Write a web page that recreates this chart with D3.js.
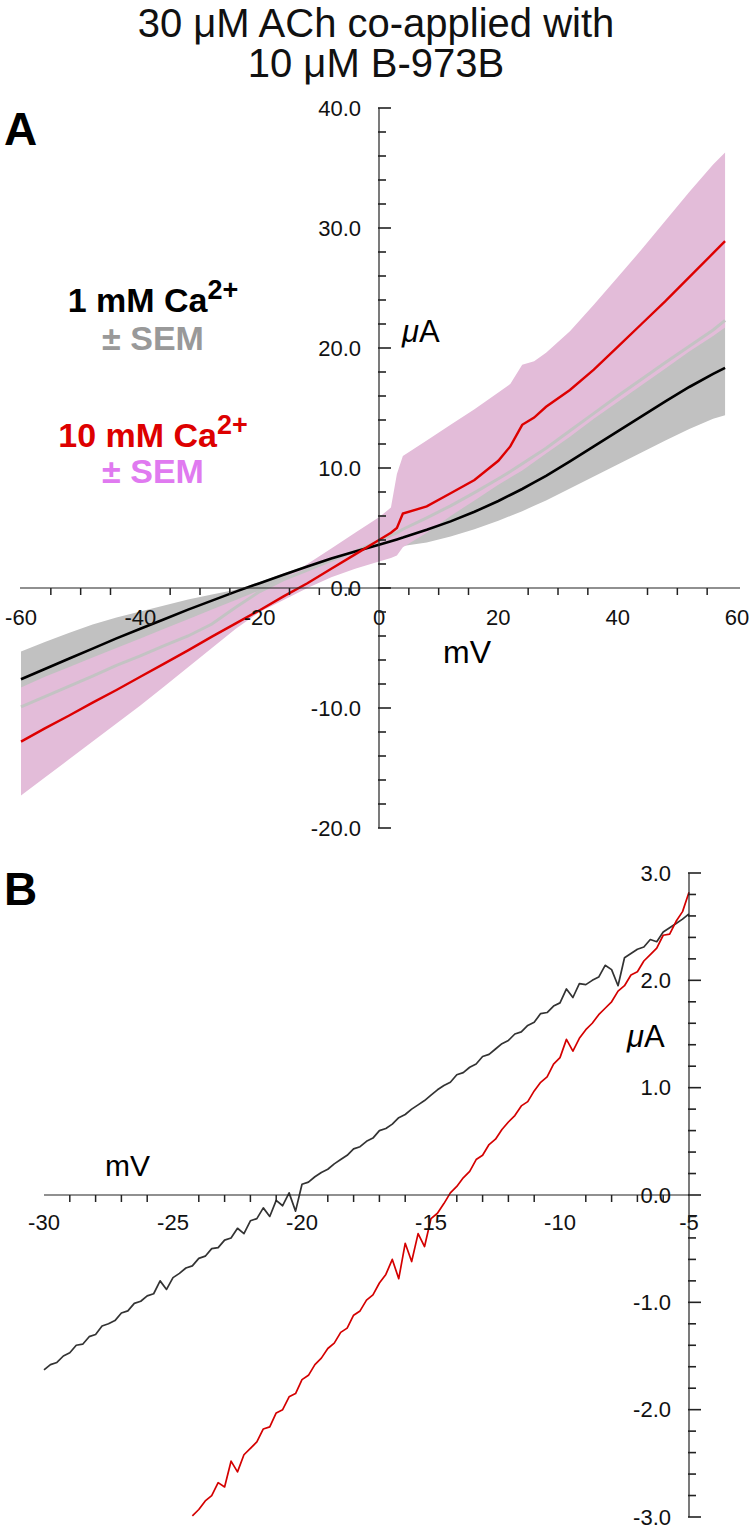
<!DOCTYPE html>
<html><head><meta charset="utf-8">
<script src="https://cdn.jsdelivr.net/npm/d3@7"></script>
<style>
body{margin:0;background:#fff}
svg{display:block}
text{font-family:"Liberation Sans",Arial,Helvetica,sans-serif}
</style>
</head><body>
<svg id="c" width="752" height="1529"></svg>
<script>
// ---------- DATA ----------
const titleLines = ["30 μM ACh co-applied with", "10 μM B-973B"];

// Panel A: voltage (mV)
const aVolt = [-60,-56,-52,-48,-44,-40,-36,-32,-28,-24,-20,-16,-12,-8,-4,0,2,3,4,8,12,16,20,22,24,26,28,32,36,40,44,48,52,56,58];
// 1 mM Ca2+ mean (µA)
const aBlack = [-7.6,-6.75,-5.9,-5.05,-4.2,-3.4,-2.6,-1.8,-1.05,-0.3,0.4,1.1,1.8,2.45,3.05,3.6,3.9,4.05,4.2,4.85,5.55,6.35,7.25,7.75,8.25,8.8,9.35,10.55,11.8,13.05,14.3,15.55,16.75,17.85,18.35];
// 1 mM SEM: light grey trace edge and opposite edge
const aGrayEdge1 = [-9.9,-9.05,-8.2,-7.35,-6.45,-5.65,-4.8,-4.0,-3.0,-1.6,-0.3,0.7,1.5,2.3,3.05,3.9,4.4,4.6,4.9,5.85,6.85,7.95,9.1,9.7,10.35,11.0,11.65,13.1,14.55,16.0,17.4,18.8,20.15,21.5,22.3];
const aGrayEdge2 = [-5.3,-4.5,-3.75,-3.05,-2.45,-1.95,-1.45,-0.95,-0.55,-0.15,0.5,1.2,1.9,2.5,3.0,3.3,3.4,3.45,3.5,3.8,4.3,4.9,5.6,6.0,6.4,6.85,7.3,8.3,9.3,10.3,11.3,12.3,13.25,14.1,14.4];
// 10 mM Ca2+ mean (µA)
const aRed = [-12.8,-11.7,-10.65,-9.55,-8.5,-7.4,-6.3,-5.2,-4.05,-2.95,-1.85,-0.7,0.4,1.6,2.8,4.0,4.6,5.0,6.2,6.8,7.9,9.0,10.6,11.8,13.6,14.2,15.1,16.5,18.2,20.1,22.0,23.9,25.9,27.9,28.9];
// 10 mM SEM edges
const aPinkUpper = [-8.3,-7.4,-6.6,-5.8,-5.0,-4.2,-3.4,-2.6,-1.8,-1.0,-0.2,0.8,2.0,3.3,4.6,5.9,6.7,9.5,11.0,12.3,13.6,14.9,16.3,17.0,18.6,18.9,19.6,21.4,23.6,25.9,28.2,30.6,33.0,35.3,36.3];
const aPinkLower = [-17.3,-15.8,-14.3,-12.8,-11.3,-9.8,-8.2,-6.6,-5.0,-3.4,-2.0,-1.0,0.0,0.9,1.6,2.2,2.5,2.7,3.4,4.6,6.0,7.3,8.6,9.2,9.8,10.5,11.2,12.6,14.1,15.5,16.9,18.3,19.7,21.0,21.7];

const aXLabels = [-60,-40,-20,0,20,40,60];
const aYLabels = [-20,-10,0,10,20,30,40];

// Panel B: [mV, µA]
const bBlack = [
[-30,-1.63],[-29.75,-1.58],[-29.5,-1.56],[-29.25,-1.50],[-29,-1.47],[-28.75,-1.40],[-28.5,-1.39],[-28.25,-1.32],
[-28,-1.30],[-27.75,-1.22],[-27.5,-1.20],[-27.25,-1.17],[-27,-1.10],[-26.75,-1.08],[-26.5,-1.01],[-26.25,-0.99],
[-26,-0.94],[-25.75,-0.92],[-25.5,-0.80],[-25.25,-0.88],[-25,-0.77],[-24.75,-0.73],[-24.5,-0.68],[-24.25,-0.66],
[-24,-0.59],[-23.75,-0.57],[-23.5,-0.50],[-23.25,-0.49],[-23,-0.42],[-22.75,-0.40],[-22.5,-0.31],[-22.25,-0.36],
[-22,-0.24],[-21.75,-0.22],[-21.5,-0.12],[-21.25,-0.20],[-21,-0.05],[-20.75,-0.10],[-20.5,0.02],[-20.25,-0.15],
[-20,0.10],[-19.75,0.12],[-19.5,0.17],[-19.25,0.21],[-19,0.24],[-18.75,0.29],[-18.5,0.33],[-18.25,0.37],
[-18,0.43],[-17.75,0.45],[-17.5,0.50],[-17.25,0.53],[-17,0.60],[-16.75,0.62],[-16.5,0.66],[-16.25,0.72],
[-16,0.75],[-15.75,0.80],[-15.5,0.84],[-15.25,0.88],[-15,0.93],[-14.75,0.98],[-14.5,1.02],[-14.25,1.05],
[-14,1.12],[-13.75,1.14],[-13.5,1.19],[-13.25,1.22],[-13,1.29],[-12.75,1.31],[-12.5,1.36],[-12.25,1.41],
[-12,1.44],[-11.75,1.50],[-11.5,1.52],[-11.25,1.58],[-11,1.61],[-10.75,1.69],[-10.5,1.70],[-10.25,1.76],
[-10,1.79],[-9.75,1.92],[-9.5,1.84],[-9.25,1.97],[-9,1.96],[-8.75,2.00],[-8.5,2.03],[-8.25,2.14],
[-8,2.10],[-7.75,1.95],[-7.5,2.21],[-7.25,2.25],[-7,2.29],[-6.75,2.31],[-6.5,2.38],[-6.25,2.36],
[-6,2.45],[-5.75,2.49],[-5.5,2.53],[-5.25,2.57],[-5,2.62]];
const bRed = [
[-24.25,-2.99],[-24,-2.93],[-23.75,-2.85],[-23.5,-2.80],[-23.25,-2.68],[-23,-2.72],[-22.75,-2.48],[-22.5,-2.58],
[-22.25,-2.42],[-22,-2.36],[-21.75,-2.30],[-21.5,-2.18],[-21.25,-2.16],[-21,-2.03],[-20.75,-2.00],[-20.5,-1.88],
[-20.25,-1.85],[-20,-1.72],[-19.75,-1.68],[-19.5,-1.58],[-19.25,-1.52],[-19,-1.43],[-18.75,-1.38],[-18.5,-1.28],
[-18.25,-1.24],[-18,-1.12],[-17.75,-1.08],[-17.5,-0.98],[-17.25,-0.93],[-17,-0.82],[-16.75,-0.74],[-16.5,-0.60],
[-16.25,-0.78],[-16,-0.45],[-15.75,-0.62],[-15.5,-0.36],[-15.25,-0.48],[-15,-0.22],[-14.75,-0.17],[-14.5,-0.08],
[-14.25,0.02],[-14,0.08],[-13.75,0.16],[-13.5,0.22],[-13.25,0.33],[-13,0.37],[-12.75,0.47],[-12.5,0.52],
[-12.25,0.61],[-12,0.68],[-11.75,0.74],[-11.5,0.83],[-11.25,0.87],[-11,0.97],[-10.75,1.05],[-10.5,1.10],
[-10.25,1.22],[-10,1.28],[-9.75,1.45],[-9.5,1.34],[-9.25,1.46],[-9,1.54],[-8.75,1.60],[-8.5,1.68],
[-8.25,1.74],[-8,1.80],[-7.75,1.90],[-7.5,1.95],[-7.25,2.05],[-7,2.08],[-6.75,2.18],[-6.5,2.24],
[-6.25,2.30],[-6,2.42],[-5.75,2.43],[-5.5,2.55],[-5.25,2.64],[-5,2.82]];
const bXLabels = [-30,-25,-20,-15,-10,-5];
const bYLabels = [-3,-2,-1,0,1,2,3];

// ---------- DRAW ----------
const svg = d3.select("#c");
const FONT_TICK = 22;

svg.selectAll("text.title").data(titleLines).join("text")
  .attr("x",376).attr("y",(d,i)=>37+i*40)
  .attr("text-anchor","middle").attr("font-size",40).attr("fill","#111").text(d=>d);

function axes(opts){
  const {x,y,xLabels,yLabels,xMinor,yMinor,xLine,yLine,labelDy,axisX} = opts;
  const g = svg.append("g");
  const axY = y(0);
  g.append("line").attr("x1",xLine[0]).attr("x2",xLine[1]).attr("y1",axY).attr("y2",axY)
    .attr("stroke","#222").attr("stroke-width",1.2);
  g.selectAll("line.xt").data(x.ticks(xMinor).filter(v=>!xLabels.some(l=>Math.abs(l-v)<1e-6)))
    .join("line").attr("x1",d=>x(d)).attr("x2",d=>x(d)).attr("y1",axY).attr("y2",axY+7)
    .attr("stroke","#222").attr("stroke-width",1.5);
  g.selectAll("text.xl").data(xLabels).join("text")
    .attr("x",d=>x(d)).attr("y",axY+labelDy).attr("text-anchor","middle")
    .attr("font-size",FONT_TICK).attr("fill","#111").text(d=>String(d));
  g.append("line").attr("x1",axisX).attr("x2",axisX).attr("y1",yLine[0]).attr("y2",yLine[1])
    .attr("stroke","#222").attr("stroke-width",1.2);
  g.selectAll("line.yt").data(y.ticks(yMinor)).join("line")
    .attr("x1",axisX-1).attr("x2",d=>axisX+(yLabels.some(l=>Math.abs(l-d)<1e-6)?12:7))
    .attr("y1",d=>y(d)).attr("y2",d=>y(d))
    .attr("stroke","#222").attr("stroke-width",1.6);
  g.selectAll("text.yl").data(yLabels).join("text")
    .attr("x",axisX-18).attr("y",d=>y(d)+7.5).attr("text-anchor","end")
    .attr("font-size",FONT_TICK).attr("fill","#111").text(d=>d.toFixed(1));
  return g;
}

// Panel A data
const xA = d3.scaleLinear().domain([-60,60]).range([21,737]);
const yA = d3.scaleLinear().domain([-20,40]).range([828,108]);
const gA = svg.append("g");
const idx = d3.range(aVolt.length);
gA.append("path").datum(idx)
  .attr("d",d3.area().x(i=>xA(aVolt[i])).y0(i=>yA(aGrayEdge2[i])).y1(i=>yA(aGrayEdge1[i])))
  .attr("fill","#c1c1c1");
gA.append("path").datum(idx)
  .attr("d",d3.area().x(i=>xA(aVolt[i])).y0(i=>yA(aPinkLower[i])).y1(i=>yA(aPinkUpper[i])))
  .attr("fill","#e3bcd9");
const lineA = arr => d3.line().x(i=>xA(aVolt[i])).y(i=>yA(arr[i]));
gA.append("path").datum(idx).attr("d",lineA(aGrayEdge1)).attr("fill","none")
  .attr("stroke","#c3c3c3").attr("stroke-width",3);
gA.append("path").datum(idx).attr("d",lineA(aBlack)).attr("fill","none")
  .attr("stroke","#000").attr("stroke-width",2.6);
gA.append("path").datum(idx).attr("d",lineA(aRed)).attr("fill","none")
  .attr("stroke","#dd0000").attr("stroke-width",2.4);
axes({x:xA,y:yA,xLabels:aXLabels,yLabels:aYLabels,
  xMinor:24,yMinor:30,xLine:[20,740],yLine:[108,828],axisX:xA(0),labelDy:37});

svg.append("text").attr("x",4).attr("y",145).attr("font-size",46).attr("font-weight","bold").text("A");
svg.append("text").attr("x",402).attr("y",342).attr("font-size",31)
  .html('<tspan font-style="italic">μ</tspan>A');
svg.append("text").attr("x",443).attr("y",663).attr("font-size",32).text("mV");

// Legend
const leg = [
  {t:"1 mM Ca",sup:"2+",y:312,c:"#000"},
  {t:"± SEM",y:350,c:"#999999"},
  {t:"10 mM Ca",sup:"2+",y:447,c:"#dd0000"},
  {t:"± SEM",y:483,c:"#e07af0"}];
leg.forEach(l=>{
  const t = svg.append("text").attr("x",153).attr("y",l.y).attr("text-anchor","middle")
    .attr("font-size",34).attr("font-weight","bold").attr("fill",l.c).text(l.t);
  if(l.sup) t.append("tspan").attr("dy",-13).attr("font-size",27).text(l.sup);
});

// Panel B
const xB = d3.scaleLinear().domain([-30,-5]).range([44,689]);
const yB = d3.scaleLinear().domain([-3,3]).range([1517,873]);
const lineB = d3.line().x(d=>xB(d[0])).y(d=>yB(d[1]));
svg.append("path").datum(bBlack).attr("d",lineB).attr("fill","none")
  .attr("stroke","#333").attr("stroke-width",1.7).attr("stroke-linejoin","round");
svg.append("path").datum(bRed).attr("d",lineB).attr("fill","none")
  .attr("stroke","#d40000").attr("stroke-width",1.7).attr("stroke-linejoin","round");
axes({x:xB,y:yB,xLabels:bXLabels,yLabels:bYLabels,
  xMinor:25,yMinor:30,xLine:[44,689],yLine:[873,1517],axisX:xB(-5),labelDy:35});

svg.append("text").attr("x",4).attr("y",905).attr("font-size",46).attr("font-weight","bold").text("B");
svg.append("text").attr("x",627).attr("y",1047).attr("font-size",31)
  .html('<tspan font-style="italic">μ</tspan>A');
svg.append("text").attr("x",105).attr("y",1176).attr("font-size",30).text("mV");
</script>
</body></html>
